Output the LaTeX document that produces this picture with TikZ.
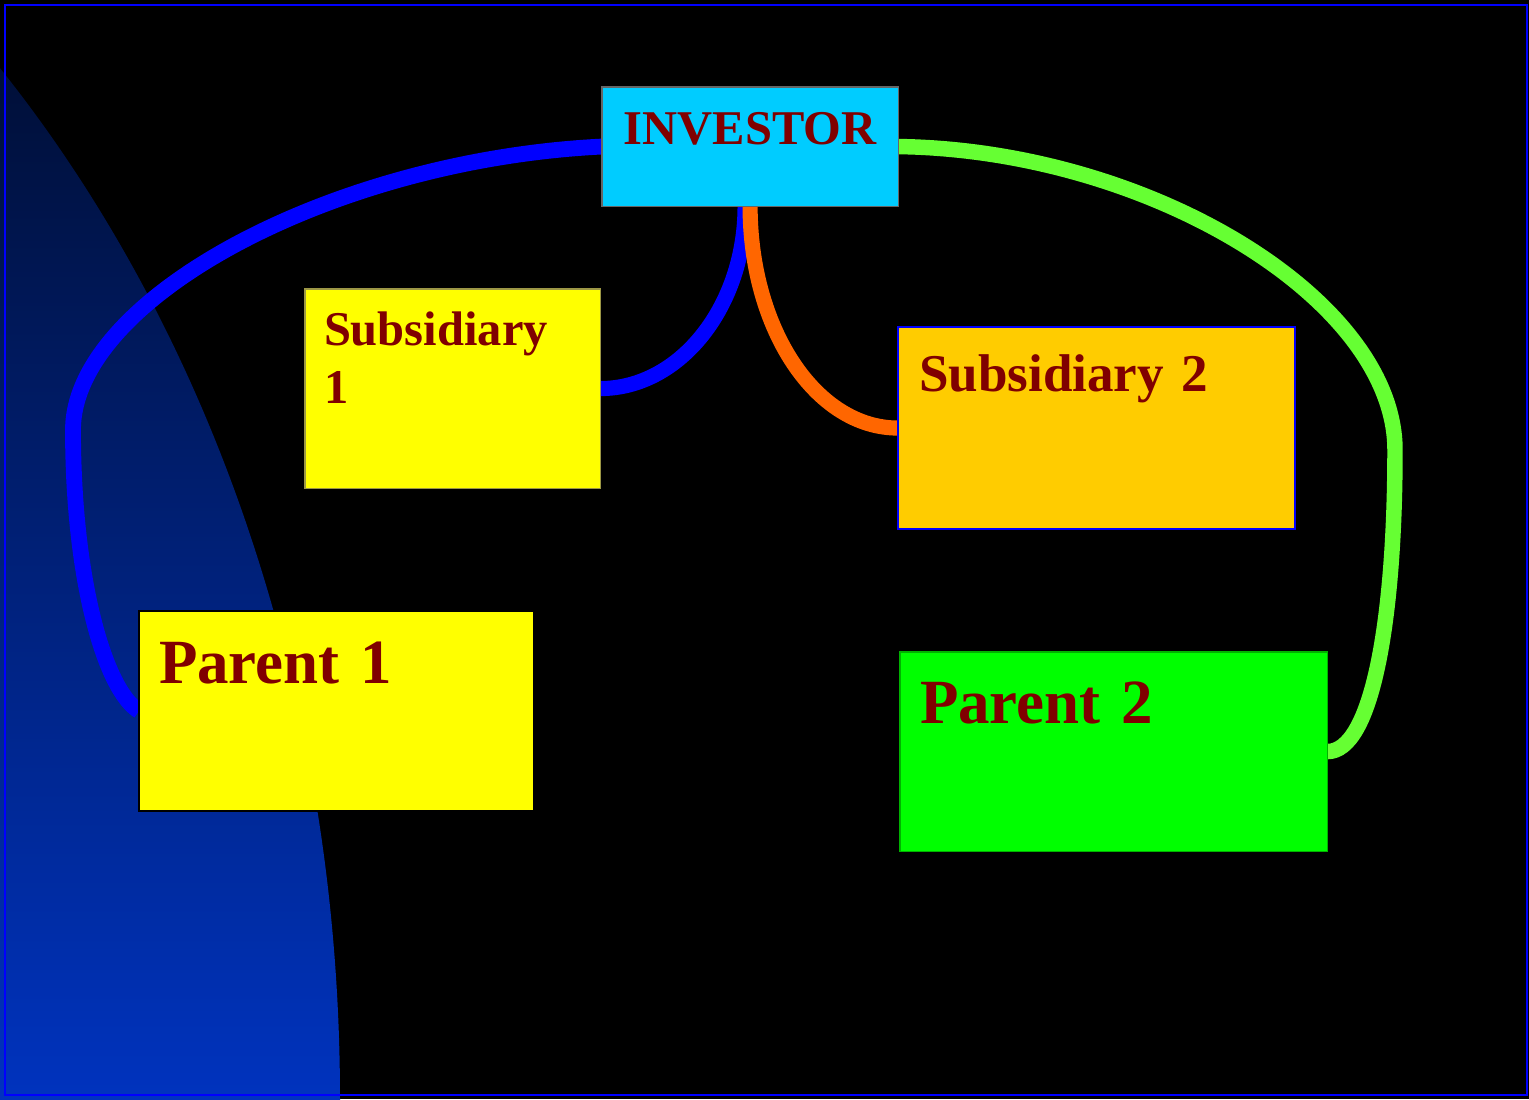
\documentclass[tikz,border=0pt]{standalone}
\usepackage{fontspec}
\setmainfont{Liberation Serif}
\definecolor{invcyan}{HTML}{00CCFF}
\definecolor{subyellow}{HTML}{FFFF00}
\definecolor{subgold}{HTML}{FFCC00}
\definecolor{pargreen}{HTML}{00FF00}
\definecolor{maroontext}{HTML}{800000}
\definecolor{linkblue}{HTML}{0000FF}
\definecolor{linkorange}{HTML}{FF6600}
\definecolor{linkgreen}{HTML}{66FF33}
\definecolor{navytop}{RGB}{0,15,55}
\definecolor{navybot}{RGB}{0,51,190}
\pgfdeclarelayer{back}
\pgfdeclarelayer{links}
\pgfsetlayers{back,links,main}
\begin{document}
\begin{tikzpicture}[x=0.01cm,y=-0.01cm,
  box/.style={rectangle, anchor=north west, inner ysep=0pt, outer sep=0pt,
    text=maroontext, align=left},
  linkline/.style={line cap=butt},
  framebox/.style={draw=linkblue, line width=0.6pt}]
\useasboundingbox (0,0) rectangle (1529,1099);
\begin{pgfonlayer}{back}
  \fill[black] (0,0) rectangle (1529,1099);
  \begin{scope}
    \clip (0,0) rectangle (1529,1099);
    \clip (-800,1099) ellipse [x radius=1140, y radius=1447];
    \shade[top color=navytop, bottom color=navybot] (0,60) rectangle (360,1099);
  \end{scope}
  \draw[framebox] (5,5) rectangle (1527,1095);
\end{pgfonlayer}

\node[box, fill=invcyan, draw=black!60, line width=0.3pt, inner xsep=0.1cm,
  text width=2.76cm, text height=0.57cm, text depth=0.62cm, align=center,
  font=\bfseries\fontsize{13.8}{16.5}\selectfont] (inv) at (602,87) {INVESTOR};
\node[box, fill=subyellow, draw=black!20!yellow!70!black, line width=0.3pt, inner xsep=0.19cm,
  text width=2.57cm, text height=0.56cm, text depth=1.43cm,
  font=\bfseries\fontsize{13.8}{16.5}\selectfont] (sub1) at (305,289) {Subsidiary\\1};
\node[box, fill=subgold, draw=linkblue, line width=0.6pt, inner xsep=0.21cm,
  text width=3.55cm, text height=0.64cm, text depth=1.38cm,
  font=\bfseries\fontsize{15.1}{18.1}\selectfont] (sub2) at (898,327) {Subsidiary 2};
\node[box, fill=subyellow, draw=black, line width=0.6pt, inner xsep=0.2cm,
  text width=3.55cm, text height=0.72cm, text depth=1.28cm,
  font=\bfseries\fontsize{17.9}{21.5}\selectfont] (p1) at (139,611) {Parent 1};
\node[box, fill=pargreen, draw=green!70!black, line width=0.3pt, inner xsep=0.2cm,
  text width=3.87cm, text height=0.71cm, text depth=1.28cm,
  font=\bfseries\fontsize{17.9}{21.5}\selectfont] (p2) at (900,652) {Parent 2};

\coordinate (bend1) at (73,430);
\coordinate (bend2) at (1395,450);
\begin{pgfonlayer}{links}
  \draw[linkline, draw=linkblue, line width=4.5pt]
    (inv.west) .. controls (330,160) and (73,300) .. (bend1)
    .. controls (73,580) and (105,690) .. (p1.west);
  \draw[linkline, draw=linkblue, line width=4.3pt]
    ([shift={(-5,0)}]inv.south) .. controls +(0,100) and +(80,0) .. (sub1.east);
  \draw[linkline, draw=linkorange, line width=4.3pt]
    (inv.south) .. controls +(0,123) and +(-82,0) .. (sub2.west);
  \draw[linkline, draw=linkgreen, line width=4.4pt]
    (inv.east) .. controls (1150,150) and (1395,300) .. (bend2)
    .. controls (1395,620) and (1372,752) .. (p2.east);
\end{pgfonlayer}
\end{tikzpicture}
\end{document}
